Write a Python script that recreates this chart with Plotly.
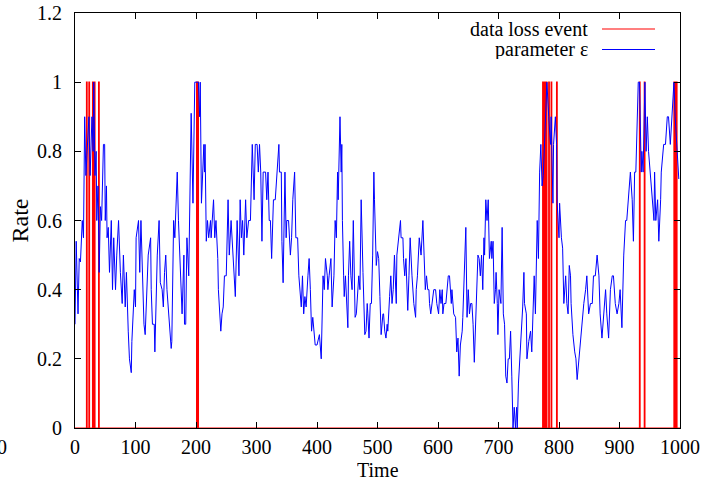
import plotly.graph_objects as go

# ---- data ----
time = [0, 2, 5, 7, 9, 12, 14, 16, 18, 20, 23, 25, 28, 30, 31, 33, 35, 36, 38, 40, 42, 44, 47, 49, 50, 52, 53, 55, 57,
        60, 62, 64, 67, 69, 72, 75, 78, 80, 83, 85, 87, 88, 90, 93, 94, 98, 100, 101, 105, 107, 109, 111, 114, 116,
        119, 121, 125, 126, 128, 131, 132, 134, 136, 139, 141, 144, 146, 148, 150, 152, 156, 158, 159,
        160, 163, 165, 169, 171, 174, 177, 180, 181, 183, 185, 188, 189, 192, 195, 198, 204, 206, 207, 209, 213,
        214, 215, 217, 219, 221, 224, 225, 229, 231, 233, 236, 237, 239, 241, 243, 245, 247, 250, 253, 255, 258,
        261, 263, 265, 268, 271, 273, 275, 277, 279, 282, 284, 287, 290, 293, 294, 296, 298, 301, 303, 305, 307,
        309, 311, 315, 317, 319, 321, 323, 325, 327, 328, 331, 334,
        337, 338, 341, 342, 344, 347, 349, 350, 353, 356, 358, 360, 363, 365, 368, 370, 372, 374, 376, 378, 380,
        382, 385, 387, 389, 391, 393, 395, 397, 400, 403, 404, 407, 408, 410, 412, 414, 417, 418, 420, 423, 425,
        428, 430, 432, 434, 435, 438, 440, 441, 442, 444, 445, 447, 449, 451, 452, 454, 456, 458, 460, 462, 463,
        465, 467, 469, 471, 472, 473, 476, 477, 479, 481, 483, 484, 486, 488, 490, 492, 494, 495, 497,
        498, 500, 502, 504, 506, 509, 510, 512, 514, 516, 517, 520, 522, 524, 526, 528, 531, 532, 535, 538, 539,
        542, 543, 545, 547, 550, 552, 554, 557, 560, 563, 564, 566, 569, 572, 575, 577, 579, 581, 583, 585, 586,
        588, 590, 593, 596, 598, 601, 603, 605, 607, 608, 610, 613, 617, 619, 622, 623, 626, 629, 631, 633, 635,
        637, 640, 641, 644, 646, 648, 650, 652, 654, 656,
        658, 660, 662, 664, 666, 668, 670, 672, 674, 676, 677, 679, 681, 683, 684, 685, 688, 689, 691, 693, 695,
        696, 698, 699, 701, 704, 706, 708, 710, 712, 714, 716, 718, 720, 722, 724, 726, 728, 730, 731, 733, 736,
        738, 740, 742, 743, 746, 747, 750, 753, 755, 757, 759, 761, 764, 766, 768, 770, 772, 774, 776, 777, 780,
        783, 786, 787, 790, 791, 794, 796, 797, 800, 801, 804, 806, 808, 811, 813, 815, 817, 819, 820, 823, 826,
        828,
        830, 831, 834, 837, 841, 844, 846, 849, 852, 855, 857, 860, 863, 866, 868, 871, 874, 877, 879, 882, 885,
        888, 890, 893, 896, 899, 901, 904, 907, 910, 912, 915, 918, 921, 923, 925, 927, 931, 933, 936, 937, 939,
        942, 944, 946, 948, 951, 954, 957, 958, 960, 963, 965, 968, 969, 973, 976, 979, 981, 984, 987, 990, 992,
        995, 998]

epsilon = [0.30, 0.54, 0.33, 0.49, 0.48, 0.60, 0.55, 0.90, 0.73, 0.80, 0.90, 0.73, 0.90, 0.80, 1.00, 0.73, 0.80, 0.60,
           0.70, 0.45, 0.64, 0.60, 0.82, 0.82, 0.60, 0.70, 0.55, 0.58, 0.45, 0.60, 0.40, 0.55, 0.40, 0.50, 0.60, 0.45,
           0.36, 0.50, 0.35, 0.45, 0.30, 0.28, 0.20, 0.16, 0.25, 0.40, 0.35, 0.55, 0.60, 0.45, 0.60, 0.45, 0.30, 0.27,
           0.45, 0.50, 0.55, 0.40, 0.30, 0.30, 0.22, 0.40, 0.50, 0.60, 0.42, 0.40, 0.35, 0.45, 0.50, 0.40, 0.30, 0.26,
           0.23,
           0.25, 0.60, 0.55, 0.74, 0.60, 0.44, 0.33, 0.50, 0.30, 0.30, 0.55, 0.44, 0.60, 0.91, 0.65, 1.00, 1.00, 0.90,
           1.00, 0.65, 0.82, 0.74, 0.82, 0.54, 0.60, 0.55, 0.60, 0.55, 0.66, 0.55, 0.60, 0.49, 0.40, 0.33, 0.28, 0.33,
           0.35, 0.44, 0.44, 0.66, 0.50, 0.60, 0.50, 0.44, 0.38, 0.60, 0.44, 0.66, 0.55, 0.60, 0.50, 0.66, 0.55, 0.60,
           0.60, 0.82, 0.74, 0.66, 0.82, 0.82, 0.74, 0.82, 0.74, 0.54, 0.74, 0.74, 0.66, 0.74, 0.60, 0.60, 0.49, 0.60,
           0.66, 0.66, 0.74,
           0.82, 0.74, 0.74, 0.54, 0.42, 0.74, 0.55, 0.60, 0.60, 0.50, 0.55, 0.66, 0.74, 0.55, 0.55, 0.44, 0.40, 0.35,
           0.44, 0.33, 0.38, 0.35, 0.44, 0.49, 0.40, 0.28, 0.32, 0.27, 0.24, 0.24, 0.26, 0.27, 0.20, 0.30, 0.44, 0.40,
           0.49, 0.44, 0.40, 0.44, 0.49, 0.35, 0.44, 0.60, 0.55, 0.74, 0.66, 0.90, 0.74, 0.82, 0.60, 0.44, 0.38, 0.44,
           0.35, 0.29, 0.44, 0.54, 0.44, 0.40, 0.60, 0.44, 0.32, 0.33, 0.40, 0.44, 0.40, 0.50, 0.66, 0.45, 0.36, 0.27,
           0.28, 0.36, 0.33, 0.26, 0.36, 0.36, 0.50, 0.74, 0.66, 0.55,
           0.47, 0.51, 0.49, 0.38, 0.27, 0.33, 0.33, 0.28, 0.26, 0.30, 0.28, 0.38, 0.44, 0.36, 0.40, 0.50, 0.36, 0.50,
           0.55, 0.60, 0.55, 0.55, 0.49, 0.44, 0.49, 0.34, 0.44, 0.55, 0.44, 0.36, 0.32, 0.40, 0.44, 0.55, 0.50, 0.60,
           0.50, 0.40, 0.44, 0.40, 0.40, 0.36, 0.33, 0.36, 0.40, 0.40, 0.36, 0.33, 0.40, 0.36, 0.40, 0.33, 0.36, 0.36,
           0.44, 0.44, 0.36, 0.40, 0.33, 0.32, 0.22, 0.26, 0.15, 0.24, 0.28, 0.32, 0.46, 0.58, 0.32, 0.40, 0.33, 0.36,
           0.36,
           0.30, 0.19, 0.28, 0.38, 0.50, 0.49, 0.44, 0.50, 0.40, 0.55, 0.50, 0.66, 0.60, 0.66, 0.60, 0.49, 0.54, 0.49,
           0.54, 0.36, 0.40, 0.45, 0.36, 0.27, 0.40, 0.36, 0.58, 0.33, 0.30, 0.15, 0.13, 0.20, 0.20, 0.28, 0.15, 0.00,
           0.06, 0.00, 0.06, 0.00, 0.13, 0.22, 0.27, 0.35, 0.45, 0.36, 0.33, 0.20, 0.25, 0.28, 0.22, 0.36, 0.44, 0.33,
           0.60, 0.49, 0.74, 0.82, 0.70, 0.73, 0.82, 0.90, 1.00, 0.90, 0.82, 0.90, 0.65, 0.82, 0.90, 0.82, 0.65, 0.55,
           0.65, 0.55, 0.52, 0.36, 0.44, 0.36, 0.33, 0.47, 0.44, 0.36, 0.27, 0.22, 0.20,
           0.14, 0.16, 0.24, 0.30, 0.36, 0.40, 0.44, 0.33, 0.36, 0.36, 0.44, 0.44, 0.50, 0.44, 0.33, 0.26, 0.32, 0.40,
           0.33, 0.26, 0.40, 0.44, 0.44, 0.36, 0.33, 0.36, 0.40, 0.29, 0.50, 0.60, 0.60, 0.66, 0.74, 0.66, 0.54, 0.74,
           0.74, 1.00, 1.00, 0.74, 0.80, 0.74, 1.00, 0.80, 0.90, 0.80, 0.74, 0.66, 0.60, 0.74, 0.60, 0.66, 0.54, 0.66,
           0.74, 0.82, 0.82, 0.90, 0.90, 0.82, 0.90, 1.00, 0.90, 0.80, 0.72]

loss_events = [19, 23, 29, 32, 39, 201, 203, 773, 776, 779, 783, 787, 796, 933, 941, 990, 992, 994]

x_ticks = [0, 100, 200, 300, 400, 500, 600, 700, 800, 900, 1000]
y_ticks = [0, 0.2, 0.4, 0.6, 0.8, 1, 1.2]

# build the 0/1 event signal (each event lasts one time unit)
ev_x, ev_y = [0], [0]
for e in loss_events:
    ev_x += [e, e, e + 1, e + 1]
    ev_y += [0, 1, 1, 0]
ev_x.append(1000)
ev_y.append(0)

FONT = "Liberation Serif, Times New Roman, serif"

fig = go.Figure()
fig.add_trace(go.Scatter(x=ev_x, y=ev_y, mode="lines", name="data loss event",
                         line=dict(color="#ff0000", width=1.2), showlegend=False))
fig.add_trace(go.Scatter(x=time, y=epsilon, mode="lines", name="parameter ε",
                         line=dict(color="#0000ff", width=1), showlegend=False))

# gnuplot-style legend: right-aligned text followed by line sample
legend_items = [("data loss event", "#ff0000"), ("parameter ε", "#0000ff")]
W, H = 605.0, 415.0
for i, (label, col) in enumerate(legend_items):
    py = 29 + 20.5 * i
    yp = (428 - py) / H
    fig.add_annotation(x=(590 - 75) / W, y=yp, xref="paper", yref="paper", text=label,
                       showarrow=False, xanchor="right", yanchor="middle", height=19,
                       font=dict(family=FONT, size=20, color="black"))
    fig.add_shape(type="line", xref="paper", yref="paper",
                  x0=(602 - 75) / W, x1=(655 - 75) / W, y0=yp, y1=yp,
                  line=dict(color=col, width=1.2))

# x-axis title placed like gnuplot's xlabel
fig.add_annotation(x=0.5, y=(428 - 470) / H, xref="paper", yref="paper", text="Time",
                   showarrow=False, xanchor="center", yanchor="middle", height=20,
                   font=dict(family=FONT, size=20, color="black"))

# stray tick label at far left of the original image
fig.add_annotation(x=(2 - 75) / W, y=(428 - 447) / H, xref="paper", yref="paper", text="0",
                   showarrow=False, xanchor="center", yanchor="middle",
                   font=dict(family=FONT, size=20, color="black"))

fig.update_layout(
    width=726, height=489,
    margin=dict(l=75, r=46, t=13, b=61),
    plot_bgcolor="white", paper_bgcolor="white",
    font=dict(family=FONT, size=20, color="black"),
    showlegend=False,
)
fig.update_xaxes(range=[0, 1000], tickvals=x_ticks, ticks="inside", ticklen=6, tickcolor="black",
                 showline=True, linecolor="black", linewidth=1, mirror="allticks", showgrid=False,
                 zeroline=False, automargin=False, ticklabelstandoff=1, ticklabeloverflow="allow")
fig.update_yaxes(range=[0, 1.2], tickvals=y_ticks, ticks="inside", ticklen=6, tickcolor="black",
                 showline=True, linecolor="black", linewidth=1, mirror="allticks", showgrid=False,
                 zeroline=False, automargin=False, title=dict(text="Rate", standoff=1), ticklabelstandoff=8,
                 ticklabeloverflow="allow")

# remove the browser's default 8px body margin so the figure sits at the page origin
fig.write_html("out.html", config={"displayModeBar": False},
               post_script="document.body.style.margin='0px';")
